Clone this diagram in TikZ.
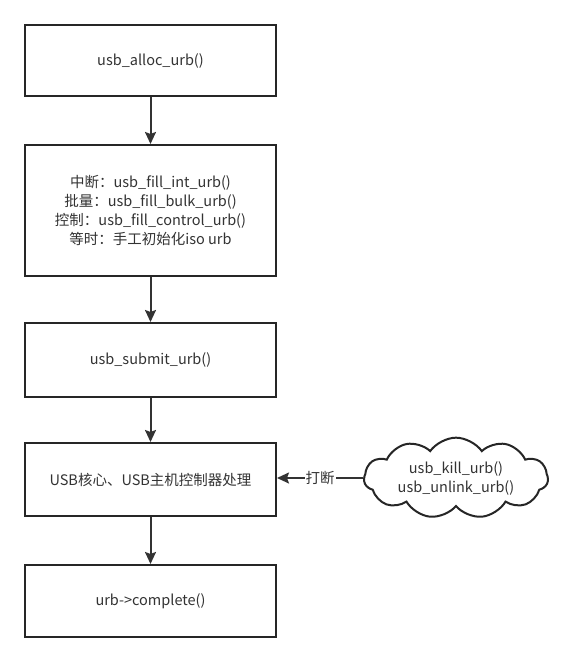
\documentclass[tikz,border=0pt]{standalone}
\usepackage{fontspec}
\setmainfont{Noto Sans CJK SC}
\usetikzlibrary{shapes.symbols,arrows.meta}
\begin{document}
\begin{tikzpicture}[x=1pt,y=-1pt,
  box/.style={draw=black!85,line width=2pt,minimum width=251pt,align=center,font=\fontsize{14.5}{19}\selectfont,text=black!80,fill=white},
  arr/.style={draw=black!80,line width=2pt,-{Stealth[length=12pt,width=11pt,inset=2pt]}}]
\useasboundingbox (0,0) rectangle (571,661);
\node[box,minimum height=71pt] (a) at (150.5,60.5) {usb\_alloc\_urb()};
\node[box,minimum height=131pt] (b) at (150.5,210.5) {中断：usb\_fill\_int\_urb()\\批量：usb\_fill\_bulk\_urb()\\控制：usb\_fill\_control\_urb()\\等时：手工初始化iso urb};
\node[box,minimum height=74pt] (c) at (150.5,360) {usb\_submit\_urb()};
\node[box,minimum height=73pt] (d) at (150.5,479.5) {USB核心、USB主机控制器处理};
\node[box,minimum height=72pt] (e) at (150.5,601) {urb->complete()};
\node[cloud,draw=black!85,line width=2pt,cloud puffs=11,cloud puff arc=110,aspect=2.8,minimum width=184pt,minimum height=66pt,align=center,font=\fontsize{14.5}{19}\selectfont,text=black!80,inner sep=0pt] (k) at (456,478) {usb\_kill\_urb()\\usb\_unlink\_urb()};
\draw[arr] (a) -- (b);
\draw[arr] (b) -- (c);
\draw[arr] (c) -- (d);
\draw[arr] (d) -- (e);
\draw[arr] (k.west) -- node[fill=white,inner sep=1pt,font=\fontsize{14.5}{19}\selectfont,text=black!80] {打断} (d.east|-k.west);
\end{tikzpicture}
\end{document}
